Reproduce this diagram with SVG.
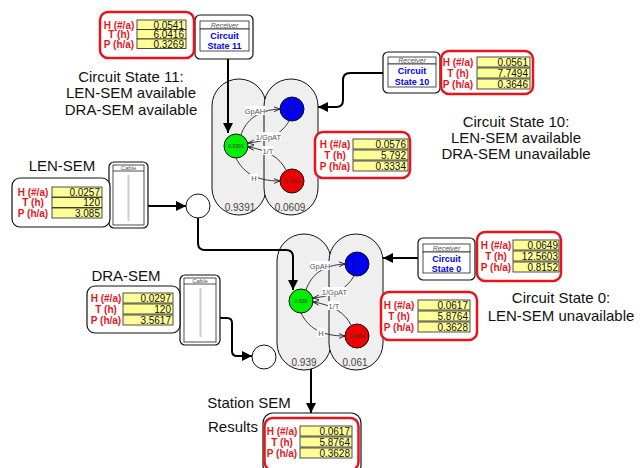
<svg xmlns="http://www.w3.org/2000/svg" width="643" height="468" viewBox="0 0 643 468">
<defs>
<marker id="big" viewBox="0 0 10 10" markerWidth="5" markerHeight="5" refX="10" refY="5" orient="auto" markerUnits="strokeWidth"><path d="M0,0 L10,5 L0,10 Z" fill="#000"/></marker>
<marker id="sm" viewBox="0 0 10 10" markerWidth="6" markerHeight="6" refX="10" refY="5" orient="auto" markerUnits="userSpaceOnUse"><path d="M0,1 L10,5 L0,9" fill="none" stroke="#222" stroke-width="1.5"/></marker>
</defs>
<style>
text{font-family:"Liberation Sans",Arial,sans-serif}
.big{font-size:15px;fill:#111;text-anchor:middle}
.lbl{font-size:10px;font-weight:bold;fill:#e8141c;text-anchor:middle}
.num{font-size:10px;fill:#111;text-anchor:end}
.cell{fill:#ffff99;stroke:#222;stroke-width:0.8}
.red{fill:#fff;stroke:#e8141c;stroke-width:2.5}
.blk{fill:#fff;stroke:#111;stroke-width:1.2}
.rin{fill:#fff;stroke:#222;stroke-width:0.8}
.rcv{font-size:7px;font-style:italic;fill:#555;text-anchor:middle}
.rc{font-size:9px;font-weight:bold;fill:#0000ee;text-anchor:middle}
.cab{font-size:6px;fill:#555;text-anchor:middle}
.pill{fill:#efefef;stroke:#111;stroke-width:1}
.pv{font-size:10px;fill:#444;text-anchor:middle}
.node{stroke:#111;stroke-width:1}
.nv{font-size:5px;fill:#333;text-anchor:middle}
.el{font-size:7.5px;fill:#555;text-anchor:middle}
.elb{fill:#fff}
.ce{fill:none;stroke:#222;stroke-width:0.9;marker-end:url(#sm)}
.conn{fill:none;stroke:#000;stroke-width:2}
.ca{marker-end:url(#big)}
.jn{fill:#fff;stroke:#111;stroke-width:1}
</style>

<!-- free text -->
<g id="texts">
<text class="big" x="131" y="82">Circuit State 11:</text>
<text class="big" x="131" y="98">LEN-SEM available</text>
<text class="big" x="131" y="115">DRA-SEM available</text>
<text class="big" x="516" y="127">Circuit State 10:</text>
<text class="big" x="516" y="143">LEN-SEM available</text>
<text class="big" x="516" y="159">DRA-SEM unavailable</text>
<text class="big" x="561" y="303">Circuit State 0:</text>
<text class="big" x="561" y="321">LEN-SEM unavailable</text>
<text class="big" x="62" y="171">LEN-SEM</text>
<text class="big" x="126" y="281">DRA-SEM</text>
<text class="big" x="249" y="408">Station SEM</text>
<text class="big" x="233" y="432">Results</text>
</g>

<!-- pills (clusters) -->
<g id="cluster11">
<rect class="pill" x="212" y="79" width="54" height="136" rx="27"/>
<rect class="pill" x="264" y="79" width="54" height="136" rx="27"/>
<text class="pv" x="240" y="211">0.9391</text>
<text class="pv" x="290" y="211">0.0609</text>
</g>
<g id="cluster0">
<rect class="pill" x="277" y="234" width="54" height="136" rx="27"/>
<rect class="pill" x="329" y="234" width="54" height="136" rx="27"/>
<text class="pv" x="304" y="366">0.939</text>
<text class="pv" x="355" y="366">0.061</text>
</g>

<!-- connectors -->
<g id="connectors">
<path class="conn ca" d="M228,59 L228,133"/>
<path class="conn ca" d="M383,73 L350,73 Q343,73 343,80 L343,100 Q343,107 336,107 L318,107"/>
<path class="conn ca" d="M148,206 L186,206"/>
<path class="conn ca" d="M198,218 L198,243 Q198,250 205,250 L286,250 Q293,250 293,257 L293,290"/>
<path class="conn ca" d="M418,258 L383,258"/>
<path class="conn ca" d="M220,318 L227,318 Q232,318 232,323 L232,351 Q232,356 237,356 L252,356"/>
<path class="conn ca" d="M311,369 L311,413"/>
<!-- internal edges, top cluster -->
<path class="ce" d="M241,135 C246,120 258,110 280,109"/>
<path class="ce" d="M289,121 C282,133 270,141 248,143"/>
<path class="ce" d="M286,170 C280,158 268,150 248,147"/>
<path class="ce" d="M236,158 C243,172 255,181 280,181"/>
<!-- internal edges, lower cluster -->
<path class="ce" d="M306,290 C311,275 323,265 345,264"/>
<path class="ce" d="M354,276 C347,288 335,296 313,298"/>
<path class="ce" d="M351,325 C345,313 333,305 313,302"/>
<path class="ce" d="M301,313 C308,327 320,336 345,336"/>
<!-- edge labels -->
<rect class="elb" x="245" y="106" width="20" height="9"/><text class="el" x="255" y="113.5">GpAH</text>
<rect class="elb" x="256" y="132" width="25" height="9"/><text class="el" x="268.5" y="139.5">1/GpAT</text>
<rect class="elb" x="262" y="146" width="12" height="9"/><text class="el" x="268" y="153.5">1/T</text>
<rect class="elb" x="250" y="173" width="8" height="9"/><text class="el" x="254" y="180.5">H</text>
<rect class="elb" x="310" y="261" width="20" height="9"/><text class="el" x="320" y="268.5">GpAH</text>
<rect class="elb" x="322" y="287" width="25" height="9"/><text class="el" x="334.5" y="294.5">1/GpAT</text>
<rect class="elb" x="328" y="301" width="12" height="9"/><text class="el" x="334" y="308.5">1/T</text>
<rect class="elb" x="317" y="328" width="8" height="9"/><text class="el" x="321" y="335.5">H</text>
</g>

<!-- state nodes -->
<g id="g11"><circle class="node" cx="236" cy="146" r="12" fill="#00ee00"/><text class="nv" x="236" y="148">0.9391</text></g>
<g id="b11"><circle class="node" cx="292" cy="109" r="12" fill="#0000ee"/><text class="nv" x="292" y="111">0</text></g>
<g id="r11"><circle class="node" cx="292" cy="181" r="12" fill="#ee0000"/><text class="nv" x="292" y="183">0.0063</text></g>
<g id="g0"><circle class="node" cx="301" cy="301" r="12" fill="#00ee00"/><text class="nv" x="301" y="303">0.939</text></g>
<g id="b0"><circle class="node" cx="357" cy="264" r="12" fill="#0000ee"/><text class="nv" x="357" y="266">0</text></g>
<g id="r0"><circle class="node" cx="357" cy="336" r="12" fill="#ee0000"/><text class="nv" x="357" y="338">0.0004</text></g>

<!-- junctions -->
<g id="j1"><circle class="jn" cx="198" cy="206" r="12"/></g>
<g id="j2"><circle class="jn" cx="264" cy="357" r="12"/></g>

<!-- receivers -->
<g id="recv11">
<rect class="blk" x="195" y="15" width="58" height="44" rx="5"/>
<rect class="rin" x="200" y="21" width="49" height="8"/>
<rect class="rin" x="200" y="29" width="49" height="22"/>
<text class="rcv" x="224.5" y="27.5">Receiver</text>
<text class="rc" x="224.5" y="39">Circuit</text>
<text class="rc" x="224.5" y="49">State 11</text>
</g>
<g id="recv10">
<rect class="blk" x="383" y="52" width="57" height="41" rx="5"/>
<rect class="rin" x="388" y="57" width="48" height="7"/>
<rect class="rin" x="388" y="64" width="48" height="23"/>
<text class="rcv" x="412" y="63">Receiver</text>
<text class="rc" x="412" y="74">Circuit</text>
<text class="rc" x="412" y="85">State 10</text>
</g>
<g id="recv0">
<rect class="blk" x="418" y="238" width="57" height="42" rx="5"/>
<rect class="rin" x="423" y="244" width="47" height="8"/>
<rect class="rin" x="423" y="252" width="47" height="21"/>
<text class="rcv" x="446.5" y="250.5">Receiver</text>
<text class="rc" x="446.5" y="261.5">Circuit</text>
<text class="rc" x="446.5" y="271.5">State 0</text>
</g>

<!-- cables -->
<g id="cableLEN">
<rect class="blk" x="109" y="162" width="39" height="66" rx="5"/>
<rect class="rin" x="113" y="165" width="31" height="60"/>
<line x1="113" y1="171" x2="144" y2="171" stroke="#222" stroke-width="0.8"/>
<text class="cab" x="128.5" y="169.5">Cable</text>
<line x1="128.5" y1="175" x2="128.5" y2="221" stroke="#ccc" stroke-width="2"/>
</g>
<g id="cableDRA">
<rect class="blk" x="180" y="275" width="40" height="70" rx="5"/>
<rect class="rin" x="184" y="278" width="32" height="64"/>
<line x1="184" y1="284" x2="216" y2="284" stroke="#222" stroke-width="0.8"/>
<text class="cab" x="200" y="282.5">Cable</text>
<line x1="200.5" y1="288" x2="200.5" y2="337" stroke="#ccc" stroke-width="2"/>
</g>

<!-- tables -->
<g id="tab11">
<rect class="red" x="100" y="12" width="94" height="46" rx="8"/>
<rect class="cell" x="137" y="20" width="49" height="9.5"/><rect class="cell" x="137" y="29.5" width="49" height="9.5"/><rect class="cell" x="137" y="39" width="49" height="9.5"/>
<text class="lbl" x="119" y="28.5">H (#/a)</text><text class="lbl" x="119" y="38">T (h)</text><text class="lbl" x="119" y="47.5">P (h/a)</text>
<text class="num" x="184" y="28.5">0.0541</text><text class="num" x="184" y="38">6.0416</text><text class="num" x="184" y="47.5">0.3269</text>
</g>
<g id="tab10">
<rect class="red" x="441" y="51" width="92" height="43" rx="8"/>
<rect class="cell" x="477" y="57" width="53" height="10"/><rect class="cell" x="477" y="68" width="53" height="10"/><rect class="cell" x="477" y="79" width="53" height="10"/>
<text class="lbl" x="458" y="65.5">H (#/a)</text><text class="lbl" x="458" y="76.5">T (h)</text><text class="lbl" x="458" y="87.5">P (h/a)</text>
<text class="num" x="528" y="65.5">0.0561</text><text class="num" x="528" y="76.5">7.7494</text><text class="num" x="528" y="87.5">0.3646</text>
</g>
<g id="tab11b">
<rect class="red" x="315" y="132" width="95" height="46" rx="8"/>
<rect class="cell" x="353" y="139" width="55" height="10"/><rect class="cell" x="353" y="150" width="55" height="10"/><rect class="cell" x="353" y="161" width="55" height="10"/>
<text class="lbl" x="335" y="147.5">H (#/a)</text><text class="lbl" x="335" y="158.5">T (h)</text><text class="lbl" x="335" y="169.5">P (h/a)</text>
<text class="num" x="406" y="147.5">0.0576</text><text class="num" x="406" y="158.5">5.792</text><text class="num" x="406" y="169.5">0.3334</text>
</g>
<g id="tabLEN">
<rect class="blk" x="12" y="178" width="98" height="49" rx="8"/>
<rect class="cell" x="52" y="187" width="50" height="10"/><rect class="cell" x="52" y="197.5" width="50" height="10"/><rect class="cell" x="52" y="208" width="50" height="10"/>
<text class="lbl" x="33" y="195.5">H (#/a)</text><text class="lbl" x="33" y="206">T (h)</text><text class="lbl" x="33" y="216.5">P (h/a)</text>
<text class="num" x="100" y="195.5">0.0257</text><text class="num" x="100" y="206">120</text><text class="num" x="100" y="216.5">3.085</text>
</g>
<g id="tab0">
<rect class="red" x="477" y="232" width="84" height="49" rx="8"/>
<rect class="cell" x="513" y="240" width="46" height="10"/><rect class="cell" x="513" y="251" width="46" height="10"/><rect class="cell" x="513" y="262" width="46" height="10"/>
<text class="lbl" x="496" y="248.5">H (#/a)</text><text class="lbl" x="496" y="259.5">T (h)</text><text class="lbl" x="496" y="270.5">P (h/a)</text>
<text class="num" x="558" y="248.5">0.0649</text><text class="num" x="558" y="259.5">12.5603</text><text class="num" x="558" y="270.5">0.8152</text>
</g>
<g id="tab0b">
<rect class="red" x="381" y="292" width="96" height="48" rx="8"/>
<rect class="cell" x="418" y="300" width="52" height="10"/><rect class="cell" x="418" y="311" width="52" height="10"/><rect class="cell" x="418" y="322" width="52" height="10"/>
<text class="lbl" x="399" y="308.5">H (#/a)</text><text class="lbl" x="399" y="319.5">T (h)</text><text class="lbl" x="399" y="330.5">P (h/a)</text>
<text class="num" x="468" y="308.5">0.0617</text><text class="num" x="468" y="319.5">5.8764</text><text class="num" x="468" y="330.5">0.3628</text>
</g>
<g id="tabDRA">
<rect class="blk" x="87" y="286" width="93" height="47" rx="8"/>
<rect class="cell" x="123" y="293" width="50" height="10"/><rect class="cell" x="123" y="304" width="50" height="10"/><rect class="cell" x="123" y="315" width="50" height="10"/>
<text class="lbl" x="106" y="301.5">H (#/a)</text><text class="lbl" x="106" y="312.5">T (h)</text><text class="lbl" x="106" y="323.5">P (h/a)</text>
<text class="num" x="171" y="301.5">0.0297</text><text class="num" x="171" y="312.5">120</text><text class="num" x="171" y="323.5">3.5617</text>
</g>
<g id="tabResults">
<rect class="blk" x="263" y="413" width="98" height="62" rx="10"/>
<rect class="red" x="264.5" y="418" width="94" height="52" rx="8"/>
<rect class="cell" x="300" y="426" width="52" height="10"/><rect class="cell" x="300" y="437" width="52" height="10"/><rect class="cell" x="300" y="448" width="52" height="10"/>
<text class="lbl" x="282" y="434.5">H (#/a)</text><text class="lbl" x="282" y="445.5">T (h)</text><text class="lbl" x="282" y="456.5">P (h/a)</text>
<text class="num" x="350" y="434.5">0.0617</text><text class="num" x="350" y="445.5">5.8764</text><text class="num" x="350" y="456.5">0.3628</text>
</g>
</svg>
